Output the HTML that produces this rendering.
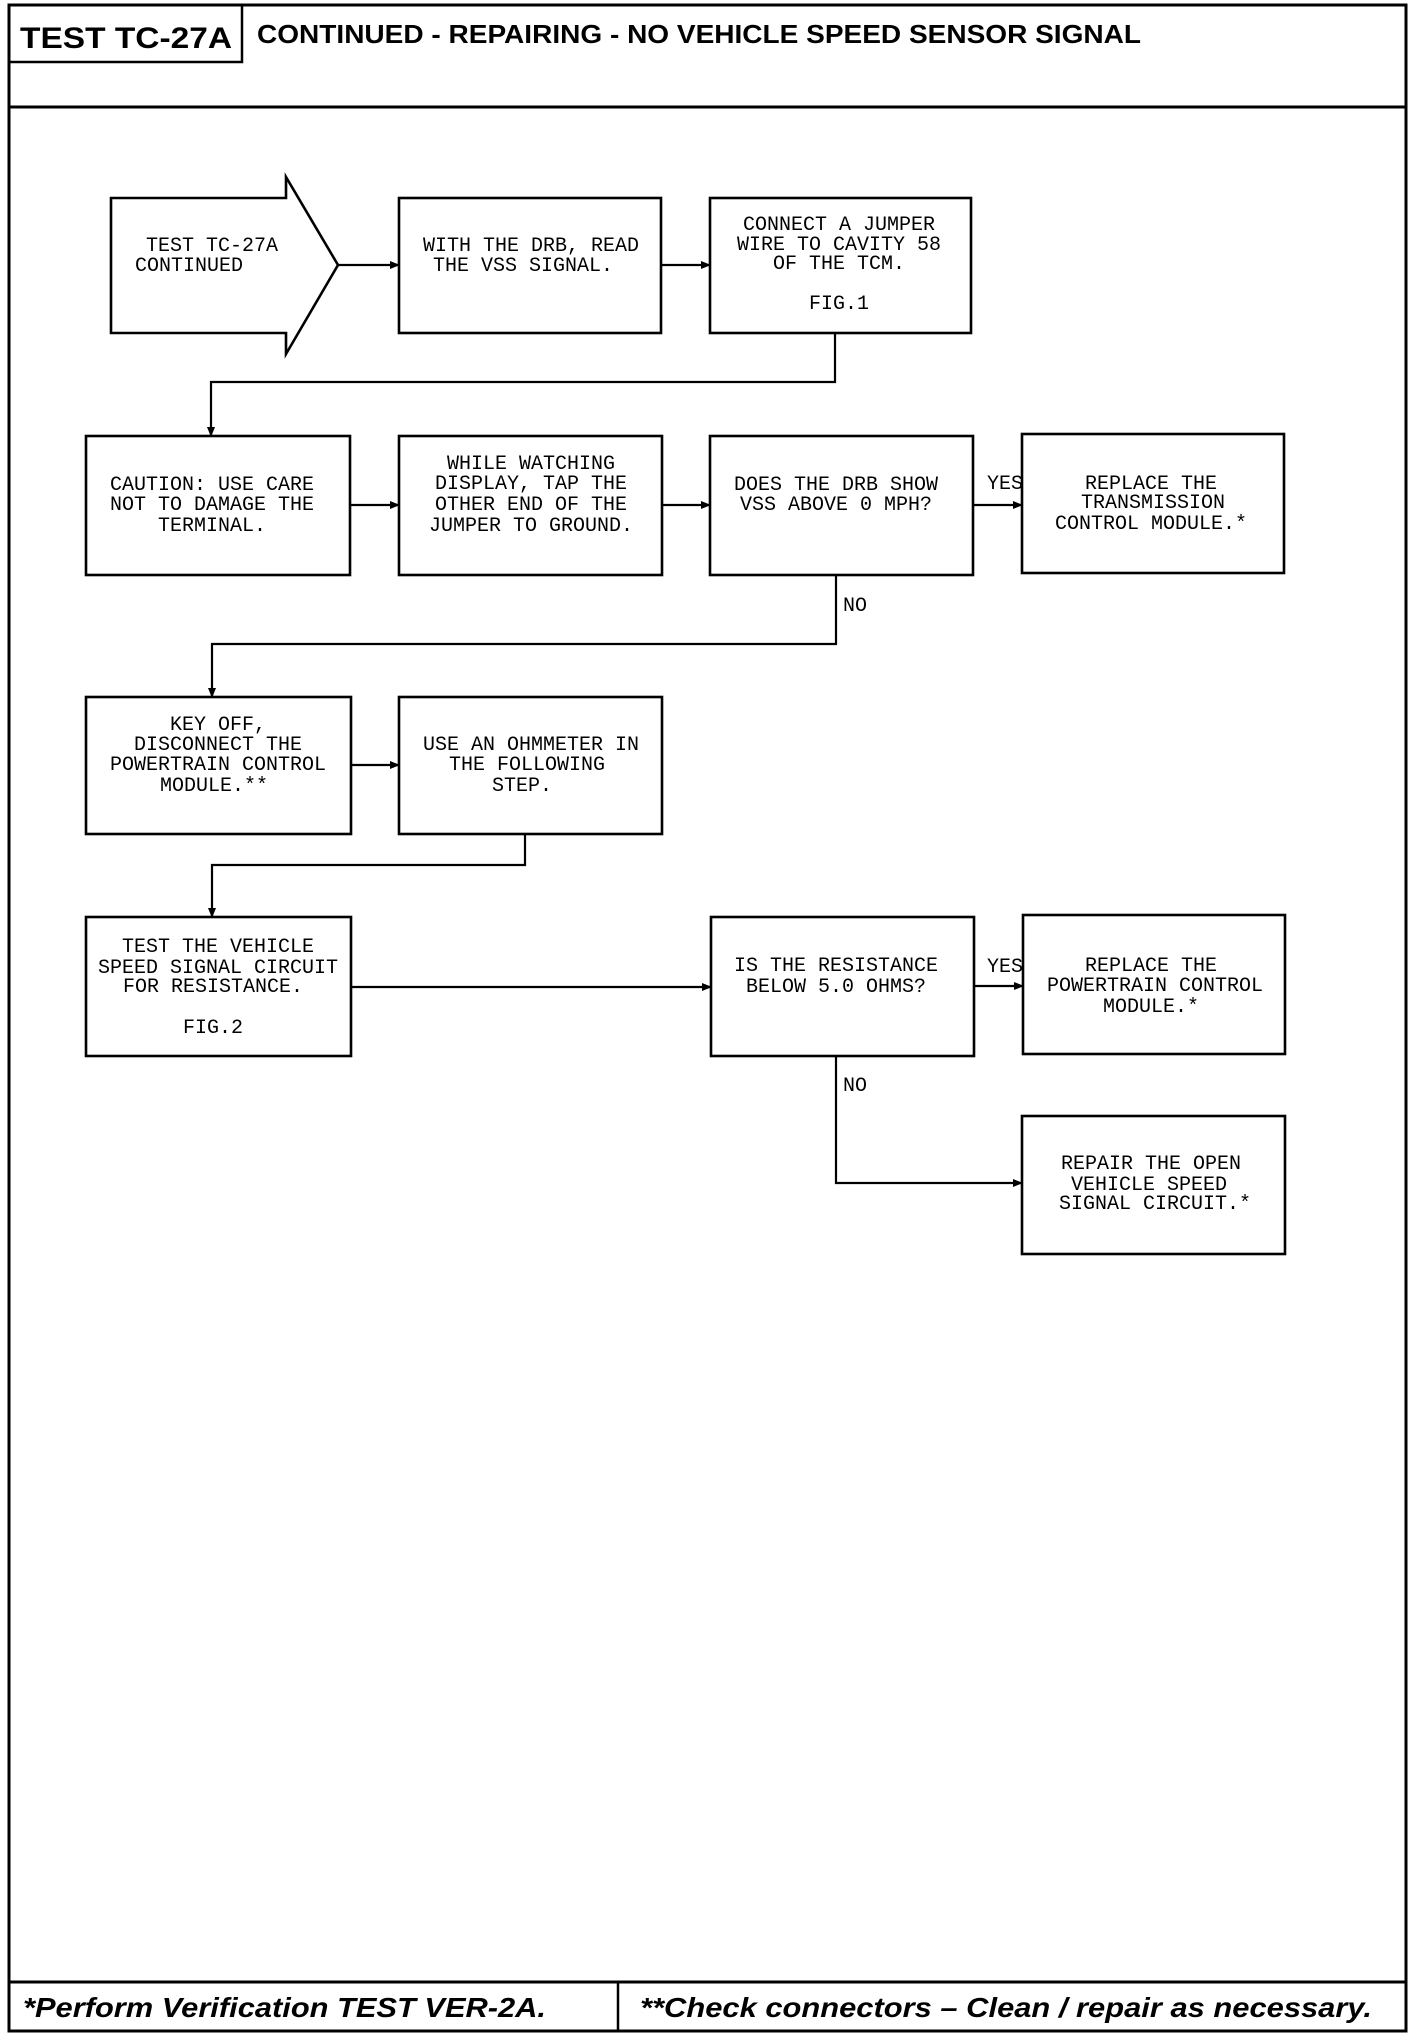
<!DOCTYPE html>
<html><head><meta charset="utf-8"><style>
html,body{margin:0;padding:0;background:#fff;}
svg{display:block;}
.b{fill:none;stroke:#000;stroke-width:2.6;}
.l{fill:none;stroke:#000;stroke-width:2.2;}
.t{font-family:"Liberation Mono",monospace;font-size:20px;text-anchor:middle;fill:#000;}
.h{font-family:"Liberation Sans",sans-serif;font-weight:bold;fill:#000;}
</style></head><body>
<svg width="1424" height="2042" viewBox="0 0 1424 2042" xmlns="http://www.w3.org/2000/svg">
<defs><marker id="a" markerWidth="10" markerHeight="8" refX="9" refY="4" orient="auto" markerUnits="userSpaceOnUse"><path d="M0,0 L10,4 L0,8 z" fill="#000"/></marker></defs>
<rect x="9" y="5" width="1397" height="2026" fill="none" stroke="#000" stroke-width="3"/>
<line x1="9" y1="107" x2="1406" y2="107" stroke="#000" stroke-width="3"/>
<rect x="9" y="5" width="233" height="57" fill="none" stroke="#000" stroke-width="2.5"/>
<text class="h" x="20" y="48" font-size="30" textLength="212" lengthAdjust="spacingAndGlyphs">TEST TC-27A</text>
<text class="h" x="257" y="43" font-size="26" textLength="884" lengthAdjust="spacingAndGlyphs">CONTINUED - REPAIRING - NO VEHICLE SPEED SENSOR SIGNAL</text>
<line x1="9" y1="1982" x2="1406" y2="1982" stroke="#000" stroke-width="3"/>
<line x1="618" y1="1982" x2="618" y2="2031" stroke="#000" stroke-width="2.5"/>
<text class="h" x="23" y="2017" font-size="28" font-style="italic" textLength="523" lengthAdjust="spacingAndGlyphs">*Perform Verification TEST VER-2A.</text>
<text class="h" x="640" y="2017" font-size="28" font-style="italic" textLength="732" lengthAdjust="spacingAndGlyphs">**Check connectors – Clean / repair as necessary.</text>

<path class="b" d="M111,198 L286,198 L286,177 L338,265 L286,354 L286,333 L111,333 Z"/>
<rect class="b" x="399" y="198" width="262" height="135"/>
<rect class="b" x="710" y="198" width="261" height="135"/>
<rect class="b" x="86" y="436" width="264" height="139"/>
<rect class="b" x="399" y="436" width="263" height="139"/>
<rect class="b" x="710" y="436" width="263" height="139"/>
<rect class="b" x="1022" y="434" width="262" height="139"/>
<rect class="b" x="86" y="697" width="265" height="137"/>
<rect class="b" x="399" y="697" width="263" height="137"/>
<rect class="b" x="86" y="917" width="265" height="139"/>
<rect class="b" x="711" y="917" width="263" height="139"/>
<rect class="b" x="1023" y="915" width="262" height="139"/>
<rect class="b" x="1022" y="1116" width="263" height="138"/>

<line class="l" x1="338" y1="265" x2="399" y2="265" marker-end="url(#a)"/>
<line class="l" x1="661" y1="265" x2="710" y2="265" marker-end="url(#a)"/>
<polyline class="l" points="835,333 835,382 211,382 211,436" marker-end="url(#a)"/>
<line class="l" x1="350" y1="505" x2="399" y2="505" marker-end="url(#a)"/>
<line class="l" x1="662" y1="505" x2="710" y2="505" marker-end="url(#a)"/>
<line class="l" x1="973" y1="505" x2="1022" y2="505" marker-end="url(#a)"/>
<polyline class="l" points="836,575 836,644 212,644 212,697" marker-end="url(#a)"/>
<line class="l" x1="351" y1="765" x2="399" y2="765" marker-end="url(#a)"/>
<polyline class="l" points="525,834 525,865 212,865 212,917" marker-end="url(#a)"/>
<line class="l" x1="351" y1="987" x2="711" y2="987" marker-end="url(#a)"/>
<line class="l" x1="974" y1="986" x2="1023" y2="986" marker-end="url(#a)"/>
<polyline class="l" points="836,1056 836,1183 1022,1183" marker-end="url(#a)"/>

<g class="t">
<text x="212" y="251">TEST TC-27A</text><text x="189" y="271">CONTINUED</text>
<text x="531" y="251">WITH THE DRB, READ</text><text x="523" y="271">THE VSS SIGNAL.</text>
<text x="839" y="230">CONNECT A JUMPER</text><text x="839" y="250">WIRE TO CAVITY 58</text><text x="839" y="269">OF THE TCM.</text><text x="839" y="309">FIG.1</text>
<text x="212" y="490">CAUTION: USE CARE</text><text x="212" y="510">NOT TO DAMAGE THE</text><text x="212" y="531">TERMINAL.</text>
<text x="531" y="469">WHILE WATCHING</text><text x="531" y="489">DISPLAY, TAP THE</text><text x="531" y="510">OTHER END OF THE</text><text x="531" y="531">JUMPER TO GROUND.</text>
<text x="836" y="490">DOES THE DRB SHOW</text><text x="836" y="510">VSS ABOVE 0 MPH?</text>
<text x="1151" y="489">REPLACE THE</text><text x="1153" y="508">TRANSMISSION</text><text x="1151" y="529">CONTROL MODULE.*</text>
<text x="218" y="730">KEY OFF,</text><text x="218" y="750">DISCONNECT THE</text><text x="218" y="770">POWERTRAIN CONTROL</text><text x="214" y="791">MODULE.**</text>
<text x="531" y="750">USE AN OHMMETER IN</text><text x="527" y="770">THE FOLLOWING</text><text x="522" y="791">STEP.</text>
<text x="218" y="952">TEST THE VEHICLE</text><text x="218" y="973">SPEED SIGNAL CIRCUIT</text><text x="213" y="992">FOR RESISTANCE.</text><text x="213" y="1033">FIG.2</text>
<text x="836" y="971">IS THE RESISTANCE</text><text x="836" y="992">BELOW 5.0 OHMS?</text>
<text x="1151" y="971">REPLACE THE</text><text x="1155" y="991">POWERTRAIN CONTROL</text><text x="1151" y="1012">MODULE.*</text>
<text x="1151" y="1169">REPAIR THE OPEN</text><text x="1149" y="1190">VEHICLE SPEED</text><text x="1155" y="1209">SIGNAL CIRCUIT.*</text>
<text x="1005" y="489">YES</text><text x="1005" y="972">YES</text>
<text x="855" y="611">NO</text><text x="855" y="1091">NO</text>
</g>
</svg>
</body></html>
